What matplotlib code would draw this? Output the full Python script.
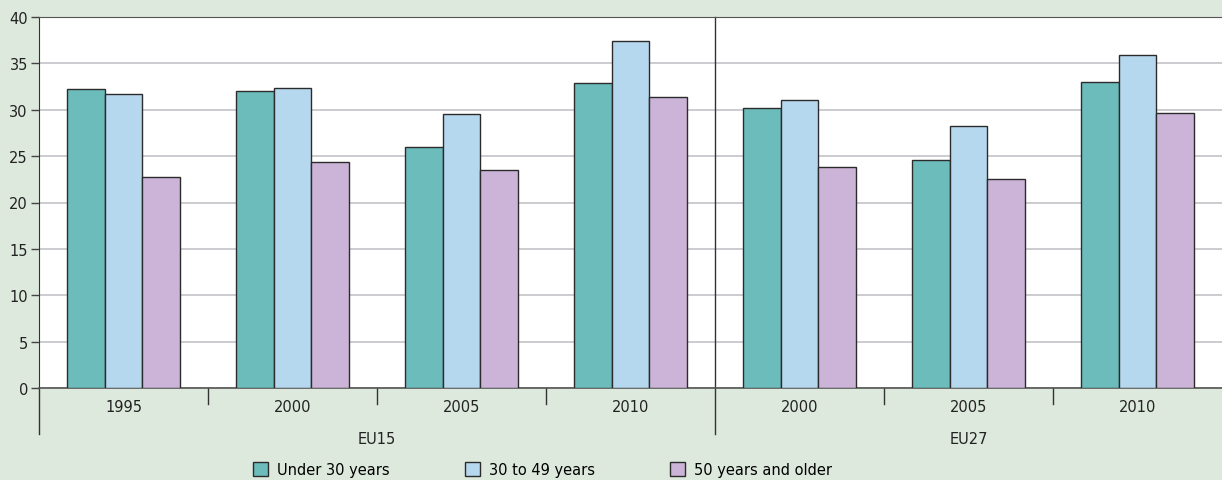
import matplotlib
matplotlib.use("Agg")
import matplotlib.pyplot as plt
import numpy as np
from matplotlib.patches import Patch

plt.rcParams['font.family'] = ['Liberation Sans Narrow', 'DejaVu Sans']

years = ['1995', '2000', '2005', '2010', '2000', '2005', '2010']
regions = ['EU15', 'EU27']
region_sizes = [4, 3]
series_names = ['Under 30 years', '30 to 49 years', '50 years and older']
under30 = [32.2, 32.0, 26.0, 32.9, 30.2, 24.6, 33.0]
mid30_49 = [31.7, 32.3, 29.5, 37.4, 31.0, 28.2, 35.9]
over50 = [22.7, 24.4, 23.5, 31.4, 23.8, 22.5, 29.7]

colors = ['#6dbcbc', '#b6d8ef', '#cbb4d8']
bg = '#dde9dd'
edge = '#2b2b2b'

fig = plt.figure(figsize=(12.22, 4.81), dpi=100, facecolor=bg)
ax = fig.add_axes([39/1222, 1-389/481, 1-39/1222, (389-18)/481])
ax.set_facecolor('white')

x = np.arange(len(years))
w = 0.223
for i, vals in enumerate([under30, mid30_49, over50]):
    ax.bar(x + (i-1)*w, vals, w, color=colors[i], edgecolor=edge, linewidth=1, zorder=3)

ax.set_xlim(-0.5, len(years)-0.5)
ax.set_ylim(0, 40)
ax.set_yticks(range(0, 41, 5))
ax.yaxis.grid(True, color='#c4c4c8', linewidth=1.2, zorder=0)
ax.set_axisbelow(True)
ax.tick_params(axis='y', length=6, width=1, color='#444444', labelsize=10.5, pad=2, labelcolor='#222222')
ax.set_xticks([])
ax.spines['right'].set_visible(False)
ax.spines['top'].set_color('#555555')
ax.spines['bottom'].set_color('#555555')
ax.spines['left'].set_color('#333333')
ax.spines['bottom'].set_linewidth(1.2)

trans = ax.get_xaxis_transform()
# year separators and labels
for k in range(1, len(years)):
    if k == region_sizes[0]:
        continue
    ax.plot([k-0.5, k-0.5], [0, -0.042], transform=trans, color='#333333', lw=1, clip_on=False)
for k, y in enumerate(years):
    ax.text(k, -0.03, y, transform=trans, ha='center', va='top', fontsize=10.5, color='#222222')

# region separators and labels
ax.plot([-0.5, -0.5], [0, -0.124], transform=trans, color='#333333', lw=1, clip_on=False)
b = region_sizes[0] - 0.5
ax.plot([b, b], [1, -0.124], transform=trans, color='#333333', lw=1, clip_on=False)
start = -0.5
for name, n in zip(regions, region_sizes):
    ax.text(start + n/2, -0.116, name, transform=trans, ha='center', va='top', fontsize=10.5, color='#222222')
    start += n

handles = [Patch(facecolor=c, edgecolor=edge, linewidth=1) for c in colors]
fig.legend(handles, series_names, loc='center', bbox_to_anchor=(0.444, 0.021), ncol=3,
           frameon=False, fontsize=10.5, handlelength=1.0, handleheight=1.1,
           columnspacing=5.2, handletextpad=0.6)

fig.savefig('out.png', dpi=100, facecolor=bg)
